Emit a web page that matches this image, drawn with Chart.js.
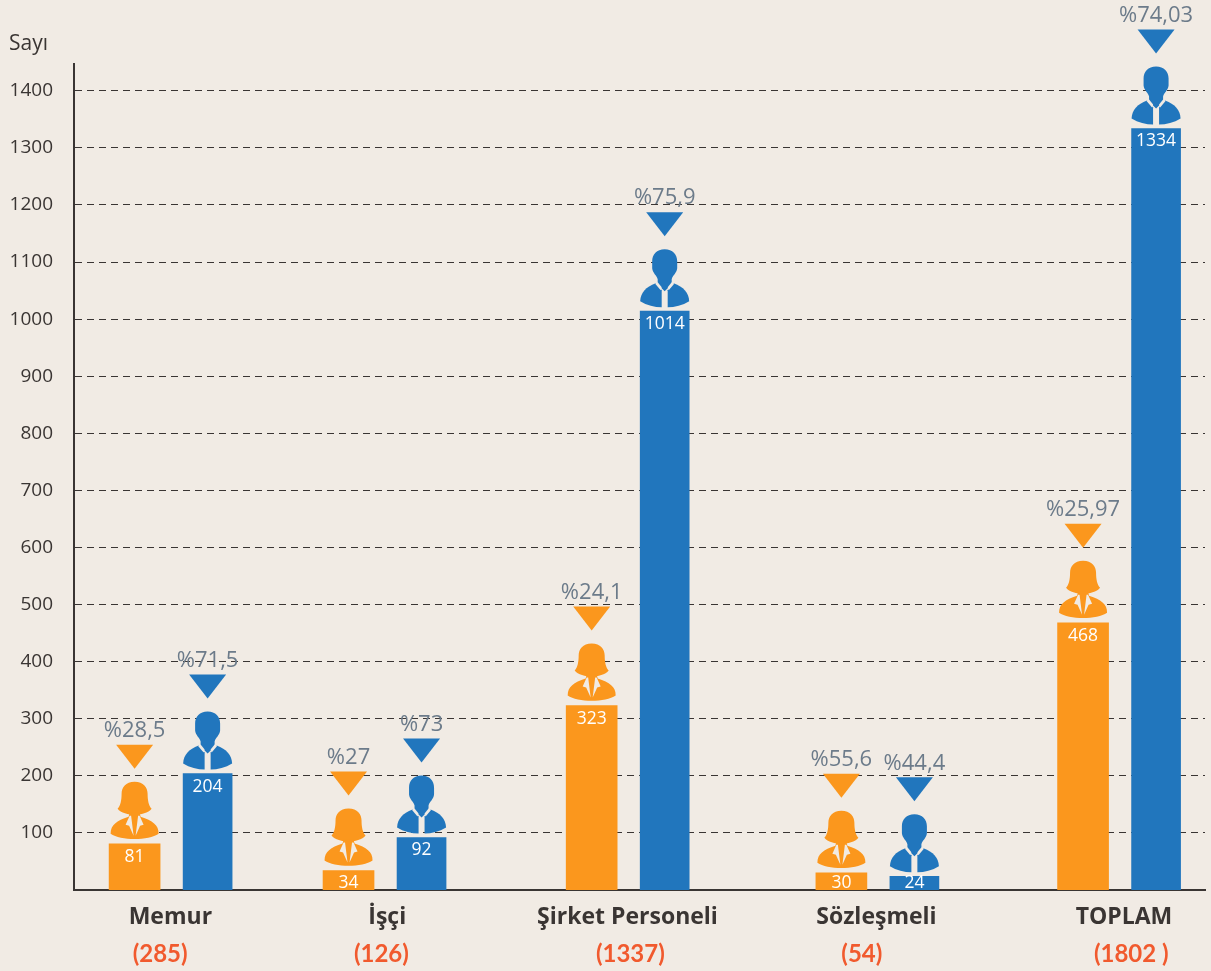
<!DOCTYPE html>
<html>
<head>
<meta charset="utf-8">
<script src="https://cdn.jsdelivr.net/npm/chart.js@4"></script>
<style>
  html, body { margin: 0; padding: 0; background: #f1ebe4; overflow: hidden; }
  #wrap { width: 1211px; height: 971px; position: relative; }
</style>
</head>
<body>
<div id="wrap"><canvas id="personelChart"></canvas></div>
<script>
const categories = ["Memur", "İşçi", "Şirket Personeli", "Sözleşmeli", "TOPLAM"];
const totals = ["(285)", "(126)", "(1337)", "(54)", "(1802 )"];
const femaleCounts = [81, 34, 323, 30, 468];
const maleCounts = [204, 92, 1014, 24, 1334];
const femalePct = ["%28,5", "%27", "%24,1", "%55,6", "%25,97"];
const malePct = ["%71,5", "%73", "%75,9", "%44,4", "%74,03"];
const yTicks = [100, 200, 300, 400, 500, 600, 700, 800, 900, 1000, 1100, 1200, 1300, 1400];

// x axis runs in bar-pitch units, the groups are not evenly spaced in the picture
const groupPos = [1.33, 4.26, 7.59, 11.01, 14.32];
const namePos = [1.32, 4.29, 7.58, 10.99, 14.38];
const totalPos = [1.18, 4.21, 7.62, 10.79, 14.48];
const xMax = 15.49;

const BG = "#f1ebe4";
const ORANGE = "#fb971d";
const BLUE = "#2176bd";
const DARK = "#3a3533";

function mirrored(ctx, draw) {
  draw(1);
  draw(-1);
}

function drawMan(ctx, x, y, color) {
  ctx.save();
  ctx.translate(x, y);
  ctx.fillStyle = color;
  // head and neck
  ctx.beginPath();
  ctx.moveTo(0, -62);
  ctx.bezierCurveTo(8, -62, 12.5, -57, 12.5, -50);
  ctx.lineTo(12.5, -43);
  ctx.bezierCurveTo(12, -38, 8, -36, 7, -32);
  ctx.lineTo(7, -27);
  ctx.lineTo(0, -20);
  ctx.lineTo(-7, -27);
  ctx.lineTo(-7, -32);
  ctx.bezierCurveTo(-8, -36, -12, -38, -12.5, -43);
  ctx.lineTo(-12.5, -50);
  ctx.bezierCurveTo(-12.5, -57, -8, -62, 0, -62);
  ctx.fill();
  // shoulders, split by the tie
  mirrored(ctx, (s) => {
    ctx.beginPath();
    ctx.moveTo(s * 24.5, -10);
    ctx.bezierCurveTo(s * 24, -19, s * 19, -24, s * 9, -28);
    ctx.lineTo(s * 3, -21);
    ctx.lineTo(s * 3, -4);
    ctx.bezierCurveTo(s * 10, -4, s * 18, -6, s * 24.5, -10);
    ctx.fill();
  });
  // collar
  ctx.fillStyle = BG;
  mirrored(ctx, (s) => {
    ctx.beginPath();
    ctx.moveTo(s * 7, -29);
    ctx.lineTo(s * 9.5, -27.5);
    ctx.lineTo(s * 4, -21);
    ctx.lineTo(s * 3, -24);
    ctx.fill();
  });
  ctx.restore();
}

function drawWoman(ctx, x, y, color) {
  ctx.save();
  ctx.translate(x, y);
  ctx.fillStyle = color;
  // hair
  ctx.beginPath();
  ctx.moveTo(0, -62);
  ctx.bezierCurveTo(9, -62, 13, -56, 13, -50);
  ctx.bezierCurveTo(13, -44, 14, -38, 17, -35);
  ctx.bezierCurveTo(14, -31, 6, -29, 0, -29);
  ctx.bezierCurveTo(-6, -29, -14, -31, -17, -35);
  ctx.bezierCurveTo(-14, -38, -13, -44, -13, -50);
  ctx.bezierCurveTo(-13, -56, -9, -62, 0, -62);
  ctx.fill();
  // body
  ctx.beginPath();
  ctx.moveTo(-24, -10);
  ctx.bezierCurveTo(-24, -19, -18, -23, -6, -27);
  ctx.lineTo(-5, -31);
  ctx.lineTo(5, -31);
  ctx.lineTo(6, -27);
  ctx.bezierCurveTo(18, -23, 24, -19, 24, -10);
  ctx.bezierCurveTo(14, -3, -14, -3, -24, -10);
  ctx.fill();
  // lapels
  ctx.fillStyle = BG;
  mirrored(ctx, (s) => {
    ctx.beginPath();
    ctx.moveTo(s * 5, -28);
    ctx.lineTo(s * 9, -19);
    ctx.lineTo(s * 5.5, -18);
    ctx.lineTo(s * 1, -8);
    ctx.lineTo(s * 3.5, -28);
    ctx.fill();
  });
  ctx.restore();
}

// icons, triangles and value labels sit relative to each bar top
const barDecor = {
  id: "barDecor",
  afterDatasetsDraw(chart) {
    const ctx = chart.ctx;
    const bottom = chart.scales.y.getPixelForValue(0);
    chart.data.datasets.forEach((ds, d) => {
      const color = ds.backgroundColor;
      chart.getDatasetMeta(d).data.forEach((bar, i) => {
        const female = d === 0;
        const x = bar.x;
        const top = bar.y;
        if (female) drawWoman(ctx, x, top, color);
        else drawMan(ctx, x, top, color);

        ctx.fillStyle = color;
        ctx.beginPath();
        ctx.moveTo(x - 18.5, top - 99);
        ctx.lineTo(x + 18.5, top - 99);
        ctx.lineTo(x, top - 75);
        ctx.closePath();
        ctx.fill();

        ctx.textAlign = "center";
        ctx.textBaseline = "middle";
        ctx.font = '22px "Open Sans"';
        ctx.fillStyle = "#6c7b8a";
        ctx.fillText((female ? femalePct : malePct)[i], x, top - 113);

        ctx.font = '17.5px "Open Sans"';
        ctx.fillStyle = "#ffffff";
        const value = (female ? femaleCounts : maleCounts)[i];
        ctx.fillText(value, x, Math.min(top + 13, bottom - 7));
      });
    });
    ctx.textAlign = "left";
    ctx.textBaseline = "middle";
    ctx.font = '21px "Open Sans"';
    ctx.fillStyle = DARK;
    ctx.fillText("Sayı", 9, 44);
  },
};

new Chart(document.getElementById("personelChart"), {
  type: "bar",
  data: {
    datasets: [
      {
        label: "Kadın",
        data: categories.map((c, i) => ({ x: groupPos[i] - 0.5, y: femaleCounts[i] })),
        backgroundColor: ORANGE,
        barThickness: 51,
      },
      {
        label: "Erkek",
        data: categories.map((c, i) => ({ x: groupPos[i] + 0.5, y: maleCounts[i] })),
        backgroundColor: BLUE,
        barThickness: 49,
      },
    ],
  },
  plugins: [barDecor],
  options: {
    responsive: true,
    maintainAspectRatio: false,
    animation: false,
    grouped: false,
    layout: { padding: { top: 64, right: 6 } },
    plugins: {
      legend: { display: false },
      tooltip: { enabled: false },
    },
    scales: {
      x: {
        type: "linear",
        min: 0,
        max: xMax,
        offset: false,
        grid: { display: false },
        border: { color: DARK, width: 2 },
        afterBuildTicks: (s) => { s.ticks = namePos.map((v) => ({ value: v })); },
        afterFit: (s) => { s.height = 42; },
        ticks: {
          autoSkip: false,
          maxRotation: 0,
          padding: 6,
          color: DARK,
          font: { family: "Open Sans", size: 23, weight: "bold" },
          callback: (v, i) => categories[i],
        },
      },
      totals: {
        type: "linear",
        axis: "x",
        position: "bottom",
        min: 0,
        max: xMax,
        offset: false,
        grid: { display: false },
        border: { display: false },
        afterBuildTicks: (s) => { s.ticks = totalPos.map((v) => ({ value: v })); },
        afterFit: (s) => { s.height = 39; },
        ticks: {
          autoSkip: false,
          maxRotation: 0,
          padding: 0,
          color: "#f15a2e",
          font: { family: "Lato", size: 24, weight: "bold" },
          callback: (v, i) => totals[i],
        },
      },
      y: {
        min: 0,
        max: 1447,
        afterBuildTicks: (s) => { s.ticks = yTicks.map((v) => ({ value: v })); },
        afterFit: (s) => { s.width = 74; },
        grid: { color: "#3a3533", lineWidth: 1, drawTicks: false },
        border: { color: DARK, width: 2, dash: [7, 5] },
        ticks: {
          autoSkip: false,
          padding: 21,
          color: DARK,
          font: { family: "Open Sans", size: 19 },
          callback: (v) => v,
        },
      },
    },
  },
});
</script>
</body>
</html>
